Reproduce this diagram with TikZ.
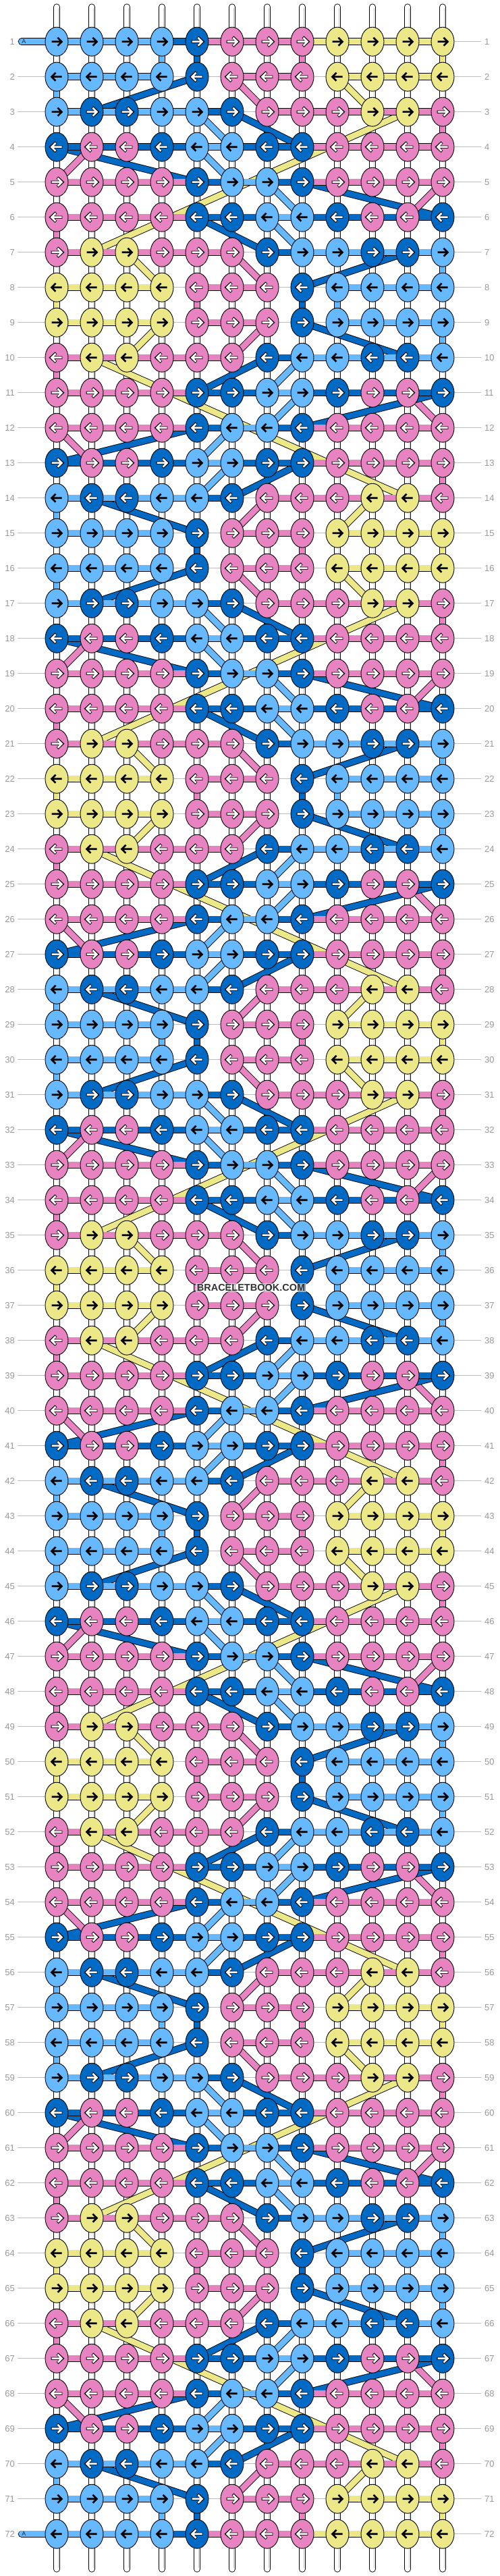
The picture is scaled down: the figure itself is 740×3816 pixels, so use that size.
\documentclass[tikz,border=0pt]{standalone}
\usepackage{fontspec}
\setmainfont{Liberation Sans}
\usetikzlibrary{shapes.geometric}
\definecolor{cL}{HTML}{66B8FF}
\definecolor{cD}{HTML}{006AC4}
\definecolor{cP}{HTML}{E883C1}
\definecolor{cY}{HTML}{ECE887}
\colorlet{aL}{black}\colorlet{aY}{black}\colorlet{aD}{white}\colorlet{aP}{white}
\definecolor{labgray}{HTML}{999999}
\definecolor{linegray}{HTML}{BDBDBD}
% knot colours, one period of 14 rows
\expandafter\def\csname pat1\endcsname{L,L,L,L,D,P,P,P,Y,Y,Y,Y}
\expandafter\def\csname pat2\endcsname{L,L,L,L,D,P,P,P,Y,Y,Y,Y}
\expandafter\def\csname pat3\endcsname{L,D,D,L,L,D,P,P,P,Y,Y,P}
\expandafter\def\csname pat4\endcsname{D,P,P,D,L,L,D,D,P,P,P,P}
\expandafter\def\csname pat5\endcsname{P,P,P,P,D,L,L,D,P,P,P,P}
\expandafter\def\csname pat6\endcsname{P,P,P,P,D,D,L,L,D,P,P,D}
\expandafter\def\csname pat7\endcsname{P,Y,Y,P,P,P,D,L,L,D,D,L}
\expandafter\def\csname pat8\endcsname{Y,Y,Y,Y,P,P,P,D,L,L,L,L}
\expandafter\def\csname pat9\endcsname{Y,Y,Y,Y,P,P,P,D,L,L,L,L}
\expandafter\def\csname pat10\endcsname{P,Y,Y,P,P,P,D,L,L,D,D,L}
\expandafter\def\csname pat11\endcsname{P,P,P,P,D,D,L,L,D,P,P,D}
\expandafter\def\csname pat12\endcsname{P,P,P,P,D,L,L,D,P,P,P,P}
\expandafter\def\csname pat13\endcsname{D,P,P,D,L,L,D,D,P,P,P,P}
\expandafter\def\csname pat14\endcsname{L,D,D,L,L,D,P,P,P,Y,Y,P}
% horizontal bars between knots (N = none)
\expandafter\def\csname bar1\endcsname{L,L,L,N,N,P,P,N,Y,Y,Y}
\expandafter\def\csname bar2\endcsname{L,L,L,N,N,P,P,N,Y,Y,Y}
\expandafter\def\csname bar3\endcsname{L,L,L,L,D,N,P,P,P,P,P}
\expandafter\def\csname bar4\endcsname{D,D,D,D,L,D,D,P,P,P,P}
\expandafter\def\csname bar5\endcsname{P,P,P,P,D,L,D,P,P,P,P}
\expandafter\def\csname bar6\endcsname{P,P,P,P,D,D,L,D,D,D,D}
\expandafter\def\csname bar7\endcsname{P,P,P,P,P,N,D,L,L,L,L}
\expandafter\def\csname bar8\endcsname{Y,Y,Y,N,P,P,N,N,L,L,L}
\expandafter\def\csname bar9\endcsname{Y,Y,Y,N,P,P,N,N,L,L,L}
\expandafter\def\csname bar10\endcsname{P,P,P,P,P,N,D,L,L,L,L}
\expandafter\def\csname bar11\endcsname{P,P,P,P,D,D,L,D,D,D,D}
\expandafter\def\csname bar12\endcsname{P,P,P,P,D,L,D,P,P,P,P}
\expandafter\def\csname bar13\endcsname{D,D,D,D,L,D,D,P,P,P,P}
\expandafter\def\csname bar14\endcsname{L,L,L,L,D,N,P,P,P,P,P}
\def\barfull{L,L,L,D,P,P,P,Y,Y,Y,Y}

\tikzset{
  thr/.style={draw=black, line width=0.9pt, double=#1, double distance=8.6pt},
  knot/.style={ellipse, draw=black, line width=0.9pt, minimum width=34pt, minimum height=43pt, inner sep=0pt},
  strand/.style={draw=black, line width=0.9pt, double=white, double distance=8.4pt, line cap=round},
  rowlab/.style={text=labgray, font=\fontsize{13}{13}\selectfont, inner sep=0pt},
  rowline/.style={draw=linegray, line width=0.9pt},
  arw/.style={line width=2.6pt, line join=miter, line cap=butt},
  arwo/.style={line width=4.2pt, line join=miter, line cap=butt, draw=black}
}
\newcommand\vc[3]{%
  \pgfmathtruncatemacro\rA{#2}\pgfmathtruncatemacro\rB{#2+1}%
  \ifnum\rB<73 \draw[thr=c#1] (k-\rA-#3) -- (k-\rB-#3);\fi}
\newcommand\dg[5]{%
  \pgfmathtruncatemacro\rA{#2}\pgfmathtruncatemacro\rB{#4}%
  \ifnum\rB<73 \draw[thr=c#1] (k-\rA-#3) -- (k-\rB-#5);\fi}

\begin{document}
\begin{tikzpicture}[x=1pt,y=-1pt]
\fill[white] (0,0) rectangle (740,3816);
\useasboundingbox (0,0) rectangle (740,3816);
% knot positions
\foreach \rr in {1,...,72}{
  \foreach \cc in {1,...,12}{
    \coordinate (k-\rr-\cc) at ({84+52*(\cc-1)},{61.7+52*(\rr-1)});
  }
}
% row lines and numbers
\foreach \rr in {1,...,72}{
  \coordinate (gl-\rr) at (26,{61.7+52*(\rr-1)});
  \coordinate (gr-\rr) at (713,{61.7+52*(\rr-1)});
  \draw[rowline] (gl-\rr) -- (gr-\rr);
  \node[rowlab, anchor=east] (ll-\rr) at (22,{61.7+52*(\rr-1)}) {\rr};
  \node[rowlab, anchor=west] (lr-\rr) at (718,{61.7+52*(\rr-1)}) {\rr};
}
% base strings
\foreach \cc in {1,...,12}{
  \coordinate (st-\cc) at ({84+52*(\cc-1)},10.5);
  \coordinate (sb-\cc) at ({84+52*(\cc-1)},3805.5);
  \draw[strand] (st-\cc) -- (sb-\cc);
  \draw[gray!45, line width=0.8pt] ({86.8+52*(\cc-1)},12) -- ({86.8+52*(\cc-1)},3804);
}
% coloured straight-down connectors
\foreach \k in {0,...,5}{
  \pgfmathtruncatemacro\bs{14*\k}
  \vc{L}{\bs+1}{4}\vc{D}{\bs+1}{5}\vc{P}{\bs+1}{8}\vc{Y}{\bs+1}{12}
  \vc{L}{\bs+2}{1}
  \vc{P}{\bs+3}{12}
  \vc{P}{\bs+6}{1}
  \vc{L}{\bs+7}{12}
  \vc{Y}{\bs+8}{1}\vc{P}{\bs+8}{5}\vc{D}{\bs+8}{8}\vc{L}{\bs+8}{9}
  \vc{L}{\bs+9}{12}
  \vc{P}{\bs+10}{1}
  \vc{P}{\bs+13}{12}
  \vc{L}{\bs+14}{1}
}
% diagonal threads
\foreach \k in {0,...,5}{
  \pgfmathtruncatemacro\bs{14*\k}
  \dg{D}{\bs+2}{5}{\bs+3}{2}\dg{P}{\bs+2}{6}{\bs+3}{7}\dg{Y}{\bs+2}{9}{\bs+3}{10}
  \dg{L}{\bs+3}{5}{\bs+4}{6}\dg{D}{\bs+3}{6}{\bs+4}{8}
  \dg{D}{\bs+4}{1}{\bs+5}{5}\dg{P}{\bs+4}{2}{\bs+5}{1}\dg{L}{\bs+4}{5}{\bs+5}{6}
  \dg{D}{\bs+5}{8}{\bs+6}{12}\dg{P}{\bs+5}{12}{\bs+6}{11}\dg{L}{\bs+5}{7}{\bs+6}{8}
  \dg{D}{\bs+6}{5}{\bs+7}{7}\dg{L}{\bs+6}{7}{\bs+7}{8}
  \dg{Y}{\bs+3}{11}{\bs+7}{2}
  \dg{D}{\bs+7}{11}{\bs+8}{8}\dg{P}{\bs+7}{6}{\bs+8}{7}\dg{Y}{\bs+7}{3}{\bs+8}{4}
  \dg{D}{\bs+9}{8}{\bs+10}{11}\dg{P}{\bs+9}{7}{\bs+10}{6}\dg{Y}{\bs+9}{4}{\bs+10}{3}
  \dg{D}{\bs+10}{7}{\bs+11}{5}\dg{L}{\bs+10}{8}{\bs+11}{7}
  \dg{P}{\bs+11}{11}{\bs+12}{12}\dg{D}{\bs+11}{12}{\bs+12}{8}\dg{L}{\bs+11}{8}{\bs+12}{7}
  \dg{D}{\bs+12}{5}{\bs+13}{1}\dg{P}{\bs+12}{1}{\bs+13}{2}\dg{L}{\bs+12}{6}{\bs+13}{5}
  \dg{D}{\bs+13}{8}{\bs+14}{6}\dg{L}{\bs+13}{6}{\bs+14}{5}
  \dg{Y}{\bs+10}{2}{\bs+14}{11}
  \dg{D}{\bs+14}{2}{\bs+15}{5}\dg{P}{\bs+14}{7}{\bs+15}{6}\dg{Y}{\bs+14}{10}{\bs+15}{9}
}
% horizontal bars
\foreach \rr in {1,...,72}{
  \pgfmathtruncatemacro\p{mod(\rr-1,14)+1}
  \ifnum\rr=1 \let\thisbars\barfull
  \else\ifnum\rr=72 \let\thisbars\barfull
  \else\edef\thisbars{\csname bar\p\endcsname}\fi\fi
  \foreach \bc [count=\cc] in \thisbars {
    \if N\bc\else
      \pgfmathtruncatemacro\cn{\cc+1}
      \draw[thr=c\bc] (k-\rr-\cc) -- (k-\rr-\cn);
    \fi
  }
}
% A start bars
\coordinate (as1) at (32,61.7);
\coordinate (as72) at (32,3753.7);
\draw[thr=cL, line cap=round] (as1) -- (k-1-1);
\draw[thr=cL, line cap=round] (as72) -- (k-72-1);
\node[font=\fontsize{9}{9}\selectfont, text=black!85, inner sep=0pt] (A1) at (35.5,61.7) {A};
\node[font=\fontsize{9}{9}\selectfont, text=black!85, inner sep=0pt] (A72) at (35.5,3753.7) {A};
% knots
\foreach \rr in {1,...,72}{
  \pgfmathtruncatemacro\p{mod(\rr-1,14)+1}
  \pgfmathtruncatemacro\dir{mod(\rr,2)}
  \ifnum\dir=1 \def\xs{1}\else\def\xs{-1}\fi
  \edef\thisrow{\csname pat\p\endcsname}
  \foreach \cl [count=\cc] in \thisrow {
    \node[knot, fill=c\cl] (n-\rr-\cc) at (k-\rr-\cc) {};
    \if L\cl\def\needo{0}\else\if Y\cl\def\needo{0}\else\def\needo{1}\fi\fi
    \ifnum\needo=1
      \draw[arwo, shift={(k-\rr-\cc)}, xscale=\xs] (-8.3,0) -- (7.2,0) (1,-6.8) -- (8.3,0) -- (1,6.8);
    \fi
    \draw[arw, color=a\cl, shift={(k-\rr-\cc)}, xscale=\xs] (-7.5,0) -- (7,0) (1.5,-6) -- (7.5,0) -- (1.5,6);
  }
}
% watermark
\node[font=\bfseries\fontsize{14.5}{14.5}\selectfont, text=black!80, fill=white, fill opacity=0.6, text opacity=1, inner sep=1.5pt] (wm) at (372,1907.7) {BRACELETBOOK.COM};
\end{tikzpicture}
\end{document}
